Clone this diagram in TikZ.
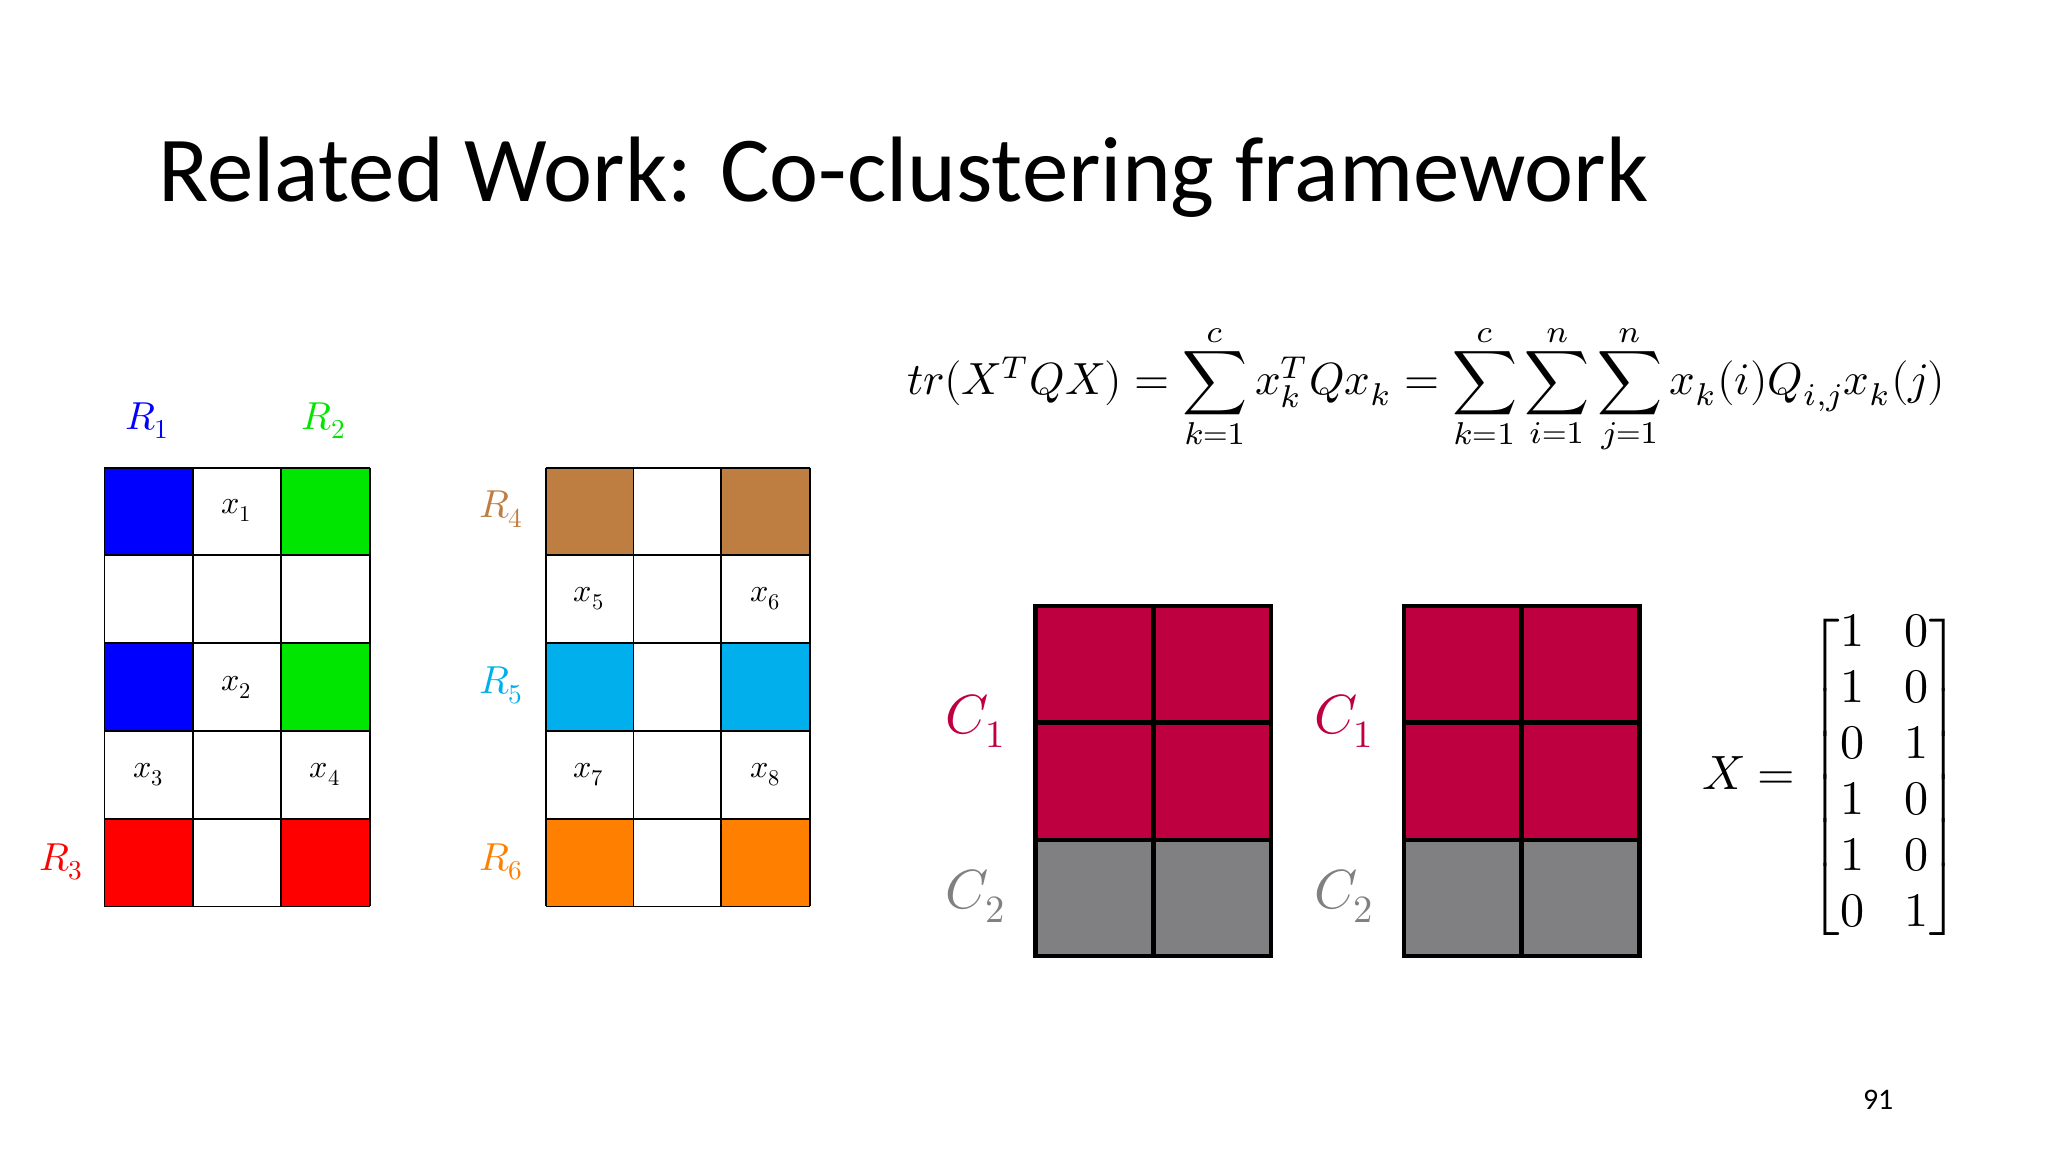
\documentclass[tikz,border=0pt]{standalone}
\usepackage{fontspec}
\setmainfont{Carlito}
\usepackage{amsmath}
\usepackage{unicode-math}
\setmathfont{Latin Modern Math}
\definecolor{rblue}{RGB}{0,0,255}
\definecolor{rgreen}{RGB}{0,230,0}
\definecolor{rred}{RGB}{255,0,0}
\definecolor{rbrown}{RGB}{190,125,65}
\definecolor{rcyan}{RGB}{0,175,235}
\definecolor{rorange}{RGB}{255,128,0}
\definecolor{crim}{RGB}{190,0,65}
\definecolor{gr}{RGB}{128,128,130}
\begin{document}
\begin{tikzpicture}[x=0.02cm,y=-0.02cm,
 cell/.style={draw=black,line width=0.8pt},
 bcell/.style={draw=black,line width=2pt},
 lab/.style={font=\fontsize{14}{14}\selectfont},
 rlab/.style={font=\fontsize{17}{17}\selectfont},
 clab/.style={font=\fontsize{24}{24}\selectfont}]
\useasboundingbox (0,0) rectangle (1568,882);
\node[anchor=base west,font=\fontsize{40.5}{40.5}\selectfont,inner sep=0pt] (title) at (121,154) {Related Work: Co-clustering framework};
% grid 1
\foreach \r/\a/\b/\c in {0/rblue/white/rgreen,1/white/white/white,2/rblue/white/rgreen,3/white/white/white,4/rred/white/rred}{
 \pgfmathsetmacro\yy{358+67.2*\r}
 \fill[\a] (80,\yy) rectangle (148,\yy+67.2);
 \fill[\b] (148,\yy) rectangle (215,\yy+67.2);
 \fill[\c] (215,\yy) rectangle (283,\yy+67.2);
}
\foreach \x in {80,148,215,283} \draw[cell] (\x,358) -- (\x,694);
\foreach \r in {0,...,5} \draw[cell] (80,358+67.2*\r) -- (283,358+67.2*\r);
\node[lab] (x1) at (181,391) {$x_1$};
\node[lab] (x2) at (181,526) {$x_2$};
\node[lab] (x3) at (114,593) {$x_3$};
\node[lab] (x4) at (249,593) {$x_4$};
\node[rlab,text=rblue] (r1) at (113,322) {$R_1$};
\node[rlab,text=rgreen] (r2) at (248,322) {$R_2$};
\node[rlab,text=rred] (r3) at (47,660) {$R_3$};
% grid 2
\foreach \r/\a/\b/\c in {0/rbrown/white/rbrown,1/white/white/white,2/rcyan/white/rcyan,3/white/white/white,4/rorange/white/rorange}{
 \pgfmathsetmacro\yy{358+67.2*\r}
 \fill[\a] (418,\yy) rectangle (485,\yy+67.2);
 \fill[\b] (485,\yy) rectangle (552,\yy+67.2);
 \fill[\c] (552,\yy) rectangle (620,\yy+67.2);
}
\foreach \x in {418,485,552,620} \draw[cell] (\x,358) -- (\x,694);
\foreach \r in {0,...,5} \draw[cell] (418,358+67.2*\r) -- (620,358+67.2*\r);
\node[lab] (x5) at (451,458) {$x_5$};
\node[lab] (x6) at (586,458) {$x_6$};
\node[lab] (x7) at (451,593) {$x_7$};
\node[lab] (x8) at (586,593) {$x_8$};
\node[rlab,text=rbrown] (r4) at (384,390) {$R_4$};
\node[rlab,text=rcyan] (r5) at (384,525) {$R_5$};
\node[rlab,text=rorange] (r6) at (384,660) {$R_6$};
% formula
\node (eq) at (1092,298) {\resizebox{15.9cm}{!}{$tr(X^TQX)=\displaystyle\sum_{k=1}^{c}x_k^TQx_k=\sum_{k=1}^{c}\sum_{i=1}^{n}\sum_{j=1}^{n}x_k(i)Q_{i,j}x_k(j)$}};
% blocks
\foreach \bx in {793,1075}{
 \fill[crim] (\bx,464) rectangle (\bx+180,643);
 \fill[gr] (\bx,643) rectangle (\bx+180,732);
 \draw[bcell] (\bx,464) rectangle (\bx+180,732);
 \draw[bcell] (\bx+90,464) -- (\bx+90,732);
 \draw[bcell] (\bx,553) -- (\bx+180,553);
 \draw[bcell] (\bx,643) -- (\bx+180,643);
}
\node[clab,text=crim] (c1a) at (747,552) {$C_1$};
\node[clab,text=gr] (c2a) at (747,686) {$C_2$};
\node[clab,text=crim] (c1b) at (1029,552) {$C_1$};
\node[clab,text=gr] (c2b) at (1029,686) {$C_2$};
\node[font=\fontsize{21}{21}\selectfont] (xm) at (1402,595) {$X=\left[\begin{array}{@{}c@{\hspace{0.6cm}}c@{}}1&0\\[0.12cm]1&0\\[0.12cm]0&1\\[0.12cm]1&0\\[0.12cm]1&0\\[0.12cm]0&1\end{array}\right]$};
\node[font=\fontsize{13}{13}\selectfont] (pg) at (1438,842) {91};
\end{tikzpicture}
\end{document}
